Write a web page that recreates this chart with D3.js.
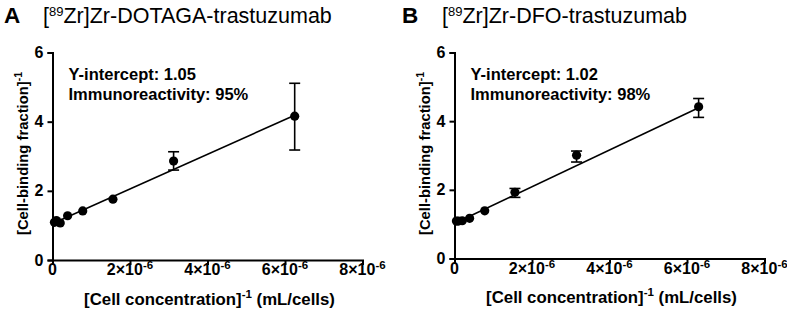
<!DOCTYPE html>
<html>
<head>
<meta charset="utf-8">
<script src="https://cdn.jsdelivr.net/npm/d3@7"></script>
<style>
  body { margin: 0; background: #fff; }
  text { font-family: Arial, "Liberation Sans", sans-serif; }
</style>
</head>
<body>
<div id="chart-area"></div>
<script>
// data
var concA = [0.05e-6, 0.1e-6, 0.2e-6, 0.39e-6, 0.78e-6, 1.56e-6, 3.125e-6, 6.25e-6];
var valA  = [1.09, 1.14, 1.07, 1.28, 1.42, 1.76, 2.86, 4.16];
var loA   = [1.09, 1.14, 1.07, 1.28, 1.42, 1.76, 2.60, 3.18];
var hiA   = [1.09, 1.14, 1.07, 1.28, 1.42, 1.76, 3.13, 5.11];
var fitA  = { intercept: 1.05, slope: 0.502e6 };

var concB = [0.05e-6, 0.1e-6, 0.2e-6, 0.39e-6, 0.78e-6, 1.56e-6, 3.15e-6, 6.3e-6];
var valB  = [1.09, 1.09, 1.10, 1.17, 1.39, 1.93, 3.01, 4.42];
var loB   = [1.09, 1.09, 1.10, 1.17, 1.39, 1.78, 2.81, 4.11];
var hiB   = [1.09, 1.09, 1.10, 1.17, 1.39, 2.04, 3.13, 4.66];
var fitB  = { intercept: 1.02, slope: 0.535e6 };

var xTicks = [0, 2e-6, 4e-6, 6e-6, 8e-6];
var xTickLabels = ["0", "2×10", "4×10", "6×10", "8×10"];
var yTicks = [0, 2, 4, 6];

var width = 787;
var height = 314;

var svg = d3.select("#chart-area")
  .append("svg")
  .attr("width", width)
  .attr("height", height);

function drawPanel(opt) {
  var x = d3.scaleLinear().domain([0, 8e-6]).range([opt.left, opt.right]);
  var y = d3.scaleLinear().domain([0, 6]).range([opt.bottom, opt.top]);
  var g = svg.append("g");

  // panel letter + title
  g.append("text")
    .attr("x", opt.letterX).attr("y", 23)
    .attr("font-size", "22.5px").attr("font-weight", "bold")
    .text(opt.letter);
  var t = g.append("text")
    .attr("x", opt.titleX).attr("y", 22.5)
    .attr("font-size", "21.5px");
  t.append("tspan").text("[");
  t.append("tspan").attr("font-size", "13px").attr("dy", -7).text("89");
  t.append("tspan").attr("dy", 7).text("Zr]Zr" + opt.title);

  // axes
  var xAxis = d3.axisBottom(x).tickValues(xTicks).tickSize(5).tickFormat("");
  var gx = g.append("g")
    .attr("transform", "translate(0," + opt.bottom + ")")
    .call(xAxis);
  var yAxis = d3.axisLeft(y).tickValues(yTicks).tickSize(5).tickFormat(d3.format("d"));
  var gy = g.append("g")
    .attr("transform", "translate(" + opt.left + ",0)")
    .call(yAxis);
  [gx, gy].forEach(a => {
    a.select(".domain").attr("stroke-width", 2).attr("stroke", "#000");
    a.selectAll(".tick line").attr("stroke-width", 2).attr("stroke", "#000");
  });
  gy.selectAll(".tick text")
    .attr("font-size", "16px").attr("font-weight", "bold")
    .attr("font-family", "Arial, 'Liberation Sans', sans-serif")
    .attr("fill", "#000").attr("x", -9);

  // x tick labels with superscripts
  xTicks.forEach((v, i) => {
    var lab = g.append("text")
      .attr("x", x(v)).attr("y", opt.bottom + 15)
      .attr("text-anchor", "middle")
      .attr("font-size", "16px").attr("font-weight", "bold");
    lab.append("tspan").text(xTickLabels[i]);
    if (v !== 0) {
      lab.append("tspan").attr("font-size", "11.5px").attr("dy", -6).text("-6");
    }
  });

  // axis titles
  var xt = g.append("text")
    .attr("x", (opt.left + opt.right) / 2 + 2).attr("y", opt.bottom + 44.5)
    .attr("text-anchor", "middle")
    .attr("font-size", "16.8px").attr("font-weight", "bold");
  xt.append("tspan").text("[Cell concentration]");
  xt.append("tspan").attr("font-size", "11.5px").attr("dy", -7).text("-1");
  xt.append("tspan").attr("dy", 7).text(" (mL/cells)");

  var yt = g.append("text")
    .attr("transform", "translate(" + (opt.left - 24.5) + "," + (opt.top + 101) + ") rotate(-90)")
    .attr("text-anchor", "middle")
    .attr("font-size", "14.8px").attr("font-weight", "bold");
  yt.append("tspan").text("[Cell-binding fraction]");
  yt.append("tspan").attr("font-size", "10.5px").attr("dy", -6).text("-1");

  // annotation
  g.append("text")
    .attr("x", opt.left + 16).attr("y", opt.top + 27)
    .attr("font-size", "16.5px").attr("font-weight", "bold")
    .text("Y-intercept: " + opt.fit.intercept.toFixed(2));
  g.append("text")
    .attr("x", opt.left + 16).attr("y", opt.top + 47)
    .attr("font-size", "16.5px").attr("font-weight", "bold")
    .text("Immunoreactivity: " + opt.immuno + "%");

  // fit line
  var x0 = d3.min(opt.conc), x1 = d3.max(opt.conc);
  g.append("line")
    .attr("x1", x(x0)).attr("y1", y(opt.fit.intercept + opt.fit.slope * x0))
    .attr("x2", x(x1)).attr("y2", y(opt.fit.intercept + opt.fit.slope * x1))
    .attr("stroke", "#000").attr("stroke-width", 1.6);

  var pts = opt.conc.map((c, i) => ({ c: c, v: opt.val[i], lo: opt.lo[i], hi: opt.hi[i] }));

  // error bars
  var eb = g.selectAll(".err").data(pts.filter(d => d.hi - d.lo > 0.1)).enter().append("g");
  eb.append("line")
    .attr("x1", d => x(d.c)).attr("x2", d => x(d.c))
    .attr("y1", d => y(d.lo)).attr("y2", d => y(d.hi))
    .attr("stroke", "#000").attr("stroke-width", 1.6);
  eb.selectAll(".cap").data(d => [[d.c, d.lo], [d.c, d.hi]]).enter().append("line")
    .attr("x1", d => x(d[0]) - 5.5).attr("x2", d => x(d[0]) + 5.5)
    .attr("y1", d => y(d[1])).attr("y2", d => y(d[1]))
    .attr("stroke", "#000").attr("stroke-width", 1.6);

  // points
  g.selectAll("circle").data(pts).enter().append("circle")
    .attr("cx", d => x(d.c)).attr("cy", d => y(d.v))
    .attr("r", 4.6).attr("fill", "#000");
}

drawPanel({
  letter: "A", letterX: 4, titleX: 43, title: "-DOTAGA-trastuzumab",
  left: 52.5, right: 362.5, top: 52.5, bottom: 260,
  conc: concA, val: valA, lo: loA, hi: hiA, fit: fitA, immuno: 95
});
drawPanel({
  letter: "B", letterX: 402, titleX: 442, title: "-DFO-trastuzumab",
  left: 454.5, right: 764.5, top: 52.5, bottom: 258.5,
  conc: concB, val: valB, lo: loB, hi: hiB, fit: fitB, immuno: 98
});
</script>
</body>
</html>
